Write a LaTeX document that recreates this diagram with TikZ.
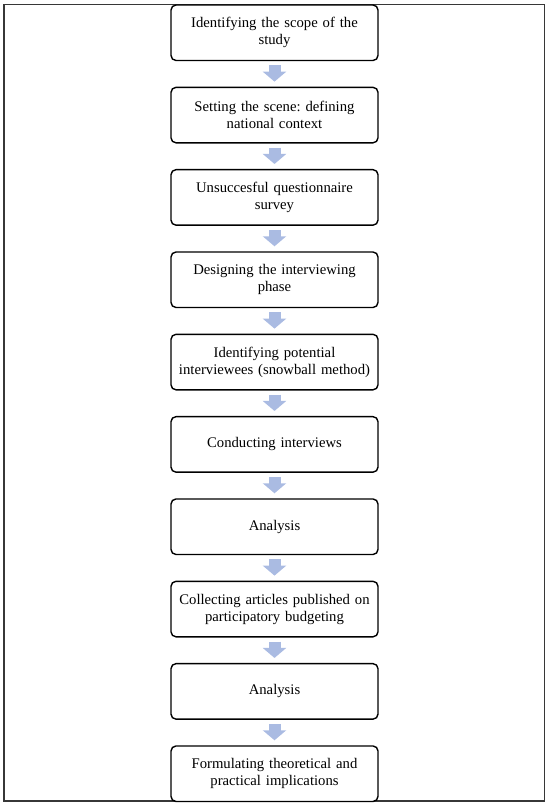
\documentclass[tikz,border=0pt]{standalone}
\usepackage{fontspec}
\setmainfont{Liberation Serif}
\usetikzlibrary{arrows.meta,calc}
\definecolor{arrowblue}{RGB}{170,187,226}
\definecolor{framegray}{RGB}{55,55,55}
\tikzset{
  stepbox/.style={draw=black, line width=1.4pt, rounded corners=5pt, fill=white,
    minimum width=207pt, minimum height=55.5pt, inner sep=2pt,
    align=center, text width=203pt, font=\fontsize{14.7}{16.9}\selectfont},
  flowarrow/.style={draw=arrowblue, line width=12pt,
    -{Triangle[width=23pt,length=10pt]}, shorten <=4pt, shorten >=5pt}
}
\begin{document}
\frenchspacing
\begin{tikzpicture}[x=1pt,y=-1pt]
\useasboundingbox (0,0) rectangle (550,807);
\draw[framegray, line width=1.3pt] (4,4.7) rectangle (544.5,801);
\node[stepbox] (b1)  at (274.5, 32.75) {Identifying the scope of the\\study};
\node[stepbox] (b2)  at (274.5,115.08) {Setting the scene: defining\\national context};
\node[stepbox] (b3)  at (274.5,197.41) {Unsuccesful questionnaire\\survey};
\node[stepbox] (b4)  at (274.5,279.74) {Designing the interviewing\\phase};
\node[stepbox] (b5)  at (274.5,362.07) {Identifying potential\\interviewees (snowball method)};
\node[stepbox] (b6)  at (274.5,444.40) {Conducting interviews};
\node[stepbox] (b7)  at (274.5,526.73) {Analysis};
\node[stepbox] (b8)  at (274.5,609.06) {Collecting articles published on\\participatory budgeting};
\node[stepbox] (b9)  at (274.5,691.39) {Analysis};
\node[stepbox] (b10) at (274.5,773.72) {Formulating theoretical and\\practical implications};
\foreach \a/\b in {b1/b2,b2/b3,b3/b4,b4/b5,b5/b6,b6/b7,b7/b8,b8/b9,b9/b10}{
  \draw[flowarrow] (\a.south) -- (\b.north);
}
\end{tikzpicture}
\end{document}
